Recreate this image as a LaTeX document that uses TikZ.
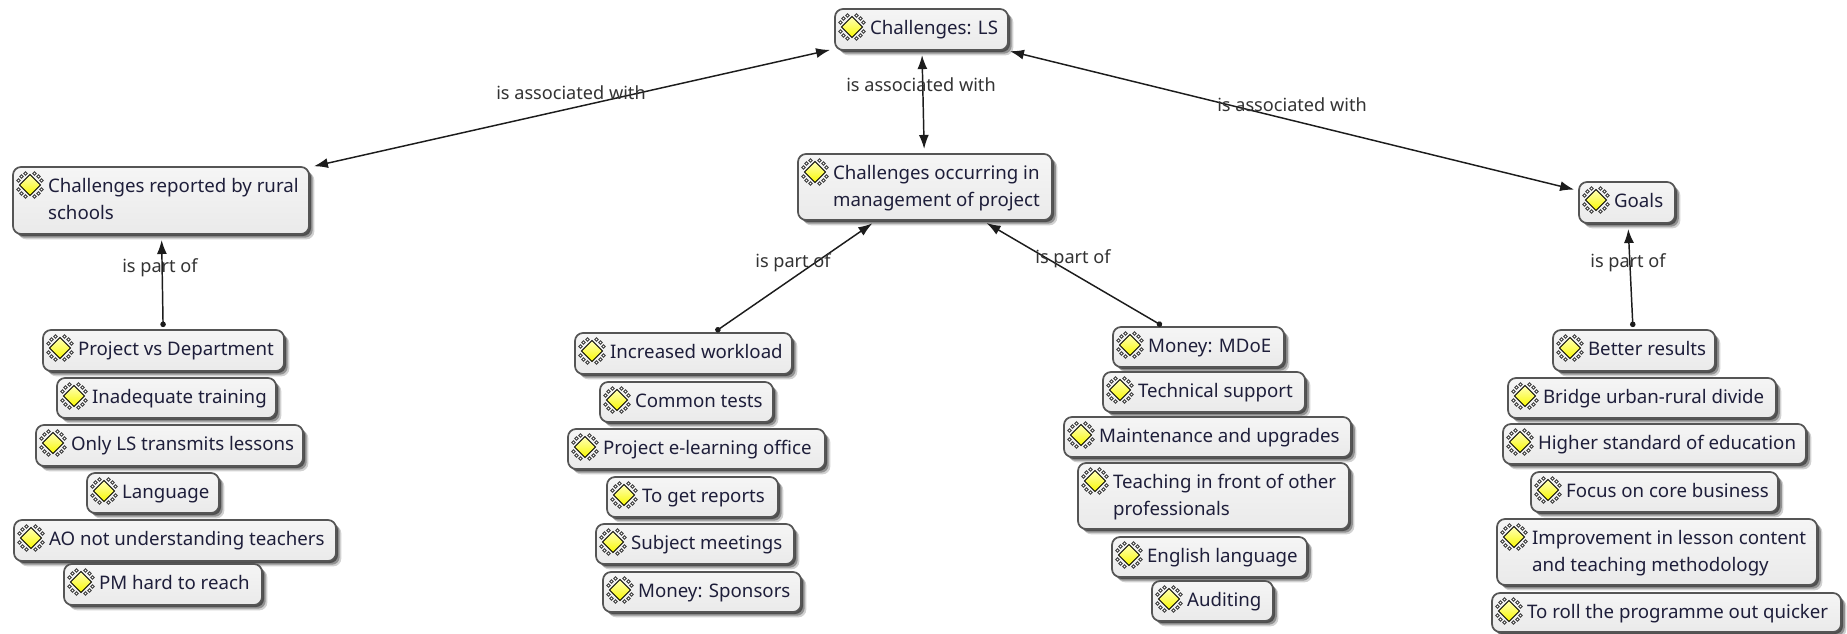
\documentclass[tikz,border=0pt]{standalone}
\usepackage{fontspec}
\setmainfont{Noto Sans}
\usetikzlibrary{arrows.meta,shadows}
\definecolor{inkblue}{HTML}{1E1E3A}
\definecolor{lblgray}{HTML}{333333}
\definecolor{edgegray}{HTML}{555555}
\definecolor{linkdark}{HTML}{1C1C1C}
\definecolor{boxtop}{HTML}{F5F5F5}
\definecolor{boxbot}{HTML}{EAEAEA}
\definecolor{iconlight}{HTML}{FFFFB8}
\definecolor{icony}{HTML}{F8F800}
\tikzset{
  conceptbox/.style={rounded corners=6pt, draw=edgegray, line width=1.3pt, inner sep=0pt, outer sep=0pt,
    top color=boxtop, bottom color=boxbot, text=inkblue,
    general shadow={fill=black, fill opacity=.18, shadow xshift=4pt, shadow yshift=-4pt},
    general shadow={fill=black, fill opacity=.30, shadow xshift=2.8pt, shadow yshift=-2.8pt},
    general shadow={fill=black, fill opacity=.45, shadow xshift=1.5pt, shadow yshift=-1.5pt}},
  linklabel/.style={text=lblgray, inner sep=0pt, font=\fontsize{13.6pt}{16pt}\selectfont},
  assoc/.style={draw=linkdark, line width=1.1pt, {Latex[length=10.5pt,width=7.5pt]}-{Latex[length=10.5pt,width=7.5pt]}, shorten >=3.8pt, shorten <=3.8pt},
  partof/.style={draw=linkdark, line width=1.1pt, {Circle[length=4.1pt]}-{Latex[length=10.5pt,width=7.5pt]}, shorten >=4.5pt, shorten <=2.2pt},
  icondia/.style={draw=black, line width=.7pt, top color=iconlight, bottom color=icony},
  icondot/.style={draw=black!75, line width=.6pt, fill=white},
}
\newcommand\conceptnode[6]{%
  \pgfmathsetmacro\cw{(#4-#2)*0.75}%
  \pgfmathsetmacro\ch{(#5-#3)*0.75}%
  \node[conceptbox, minimum width=\cw pt, minimum height=\ch pt] (#1) at ({(#2+#4)/2},{(#3+#5)/2})
    {\parbox[c][\ch pt][t]{\cw pt}{\fontsize{14pt}{19.8pt}\selectfont\leftskip=26.3pt\rightskip=0pt plus 1fil\parindent=0pt\rule{0pt}{19.2pt}#6}};
  \foreach \sx in {-1,1}{\foreach \sy in {-1,1}{
    \foreach \a/\b in {4.5/11.5,8.5/8.5,11.5/4.5}{
      \filldraw[icondot] ({#2+17+\sx*\a},{#3+18+\sy*\b}) circle (1.3pt);
    }}}
  \path[icondia] ({#2+17},{#3+18-10.5}) -- ({#2+17+10.5},{#3+18}) -- ({#2+17},{#3+18+10.5}) -- ({#2+17-10.5},{#3+18}) -- cycle;
}
\begin{document}
\begin{tikzpicture}[x=0.75pt,y=-0.75pt]
\useasboundingbox (0,0) rectangle (1847,633);
\fill[white] (0,0) rectangle (1847,633);
\conceptnode{top}{835}{9}{1008}{50}{\mbox{Challenges: LS}}
\conceptnode{mgmt}{798}{154}{1052}{220}{\mbox{Challenges occurring in}\\\mbox{management of project}}
\conceptnode{rural}{13}{167}{309}{234}{\mbox{Challenges reported by rural}\\\mbox{schools}}
\conceptnode{goals}{1579}{182}{1675}{223}{\mbox{Goals}}
% left column
\conceptnode{pvd}{43}{330}{284}{371}{\mbox{Project vs Department}}
\conceptnode{train}{57}{378}{276}{418}{\mbox{Inadequate training}}
\conceptnode{onlyls}{36}{425}{303}{466}{\mbox{Only LS transmits lessons}}
\conceptnode{lang}{87}{473}{219}{513}{\mbox{Language}}
\conceptnode{ao}{14}{520}{336}{561}{\mbox{AO not understanding teachers}}
\conceptnode{pm}{64}{564}{262}{605}{\mbox{PM hard to reach}}
% middle-left column
\conceptnode{work}{575}{333}{792}{374}{\mbox{Increased workload}}
\conceptnode{tests}{600}{382}{773}{422}{\mbox{Common tests}}
\conceptnode{office}{568}{429}{825}{469}{\mbox{Project e-learning office}}
\conceptnode{reports}{607}{477}{778}{517}{\mbox{To get reports}}
\conceptnode{subject}{596}{524}{794}{564}{\mbox{Subject meetings}}
\conceptnode{sponsors}{603}{572}{801}{612}{\mbox{Money: Sponsors}}
% middle-right column
\conceptnode{mdoe}{1113}{327}{1284}{367}{\mbox{Money: MDoE}}
\conceptnode{tech}{1103}{372}{1305}{412}{\mbox{Technical support}}
\conceptnode{maint}{1064}{417}{1351}{457}{\mbox{Maintenance and upgrades}}
\conceptnode{teach}{1078}{463}{1349}{529}{\mbox{Teaching in front of other}\\\mbox{professionals}}
\conceptnode{english}{1112}{537}{1307}{577}{\mbox{English language}}
\conceptnode{audit}{1152}{581}{1273}{621}{\mbox{Auditing}}
% right column
\conceptnode{better}{1553}{330}{1715}{371}{\mbox{Better results}}
\conceptnode{bridge}{1508}{378}{1776}{418}{\mbox{Bridge urban-rural divide}}
\conceptnode{higher}{1503}{424}{1806}{464}{\mbox{Higher standard of education}}
\conceptnode{focus}{1531}{472}{1778}{512}{\mbox{Focus on core business}}
\conceptnode{improve}{1497}{519}{1817}{585}{\mbox{Improvement in lesson content}\\\mbox{and teaching methodology}}
\conceptnode{roll}{1492}{593}{1841}{632}{\mbox{To roll the programme out quicker}}
% connectors
\draw[assoc] (rural) -- (top);
\draw[assoc] (mgmt) -- (top);
\draw[assoc] (goals) -- (top);
\draw[partof] (pvd) -- (rural);
\draw[partof] (work) -- (mgmt);
\draw[partof] (mdoe) -- (mgmt);
\draw[partof] (better) -- (goals);
% labels
\node[linklabel] (la) at (571,93) {is associated with};
\node[linklabel] (lb) at (921,85) {is associated with};
\node[linklabel] (lc) at (1292,105) {is associated with};
\node[linklabel] (ld) at (160,268) {is part of};
\node[linklabel] (le) at (793,263) {is part of};
\node[linklabel] (lf) at (1073,259) {is part of};
\node[linklabel] (lg) at (1628,263) {is part of};
\end{tikzpicture}
\end{document}
